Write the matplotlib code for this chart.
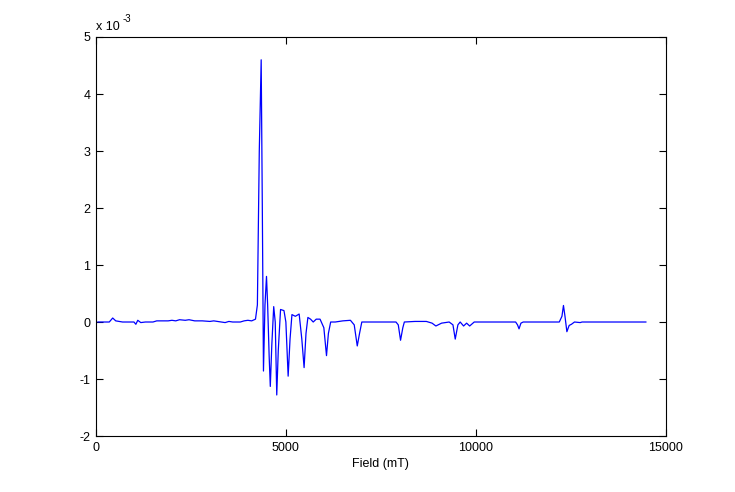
import numpy as np
import matplotlib
matplotlib.use("Agg")
import matplotlib.pyplot as plt

# field in mT, signal in units of 1e-3
field = [50, 350, 440, 520, 700, 1000, 1050, 1100, 1180, 1300, 1500, 1600, 1900,
         2000, 2100, 2200, 2350, 2450, 2600, 2800, 3000, 3100, 3300, 3400, 3500,
         3600, 3800, 3900, 4000, 4100, 4200, 4250, 4300, 4350, 4380, 4410, 4450,
         4490, 4520, 4560, 4590, 4630, 4680, 4720, 4760, 4800, 4860, 4950, 5000,
         5060, 5110, 5160, 5250, 5350, 5420, 5480, 5530, 5580, 5650, 5720, 5800,
         5900, 6000, 6070, 6120, 6180, 6300, 6500, 6700, 6800, 6880, 6940, 7000,
         7500, 7900, 7960, 8020, 8080, 8120, 8400, 8700, 8850, 8950, 9100, 9300,
         9400, 9460, 9530, 9590, 9680, 9760, 9840, 9960, 11050, 11100, 11140,
         11190, 11250, 12200, 12270, 12310, 12350, 12400, 12460, 12520, 12600,
         12750, 12800, 14480]
signal = [0.0, 0.0, 0.07, 0.02, 0.0, 0.0, -0.04, 0.03, -0.01, 0.0, 0.0, 0.02, 0.02,
          0.03, 0.02, 0.04, 0.03, 0.04, 0.02, 0.02, 0.01, 0.02, 0.0, -0.01, 0.01,
          0.0, 0.0, 0.02, 0.03, 0.02, 0.05, 0.3, 3.0, 4.6, 2.0, -0.86, 0.3,
          0.8, 0.3, -0.6, -1.13, -0.4, 0.27, 0.0, -1.28, -0.5, 0.22, 0.2, 0.0,
          -0.95, -0.3, 0.13, 0.1, 0.14, -0.3, -0.8, -0.2, 0.08, 0.05, 0.0, 0.05,
          0.05, -0.1, -0.59, -0.2, 0.0, 0.0, 0.02, 0.03, -0.05, -0.42, -0.2, 0.0,
          0.0, 0.0, -0.05, -0.32, -0.1, 0.0, 0.01, 0.01, -0.02, -0.07, -0.02, 0.0,
          -0.05, -0.3, -0.05, 0.0, -0.07, -0.02, -0.07, 0.0, 0.0, -0.05, -0.12,
          -0.02, 0.0, 0.0, 0.1, 0.29, 0.1, -0.17, -0.06, -0.04, 0.0,
          -0.01, 0.0, 0.0]

xticks = [0, 5000, 10000, 15000]
yticks = [-2, -1, 0, 1, 2, 3, 4, 5]

plt.rcParams['font.family'] = ['Liberation Sans', 'DejaVu Sans']
plt.rcParams['font.size'] = 9
plt.rcParams['axes.unicode_minus'] = False

fig = plt.figure(figsize=(7.35, 4.92), dpi=100)
ax = fig.add_axes([0.1306, 0.1138, 0.775, 0.811])

ax.plot(field, signal, color='#0000ff', linewidth=0.9)

ax.set_xlim(0, 15000)
ax.set_ylim(-2, 5)
ax.set_xticks(xticks)
ax.set_yticks(yticks)
ax.tick_params(direction='in', top=True, right=True, length=5, width=0.8, pad=4)
for s in ax.spines.values():
    s.set_linewidth(0.8)
ax.set_xlabel('Field (mT)', labelpad=3)

# exponent label, matlab style
ax.annotate('x 10', xy=(0, 1), xycoords='axes fraction', xytext=(0, 3),
            textcoords='offset points', ha='left', va='bottom')
ax.annotate('-3', xy=(0, 1), xycoords='axes fraction', xytext=(19, 9),
            textcoords='offset points', ha='left', va='bottom', fontsize=7)

fig.savefig('out.png', dpi=100)
